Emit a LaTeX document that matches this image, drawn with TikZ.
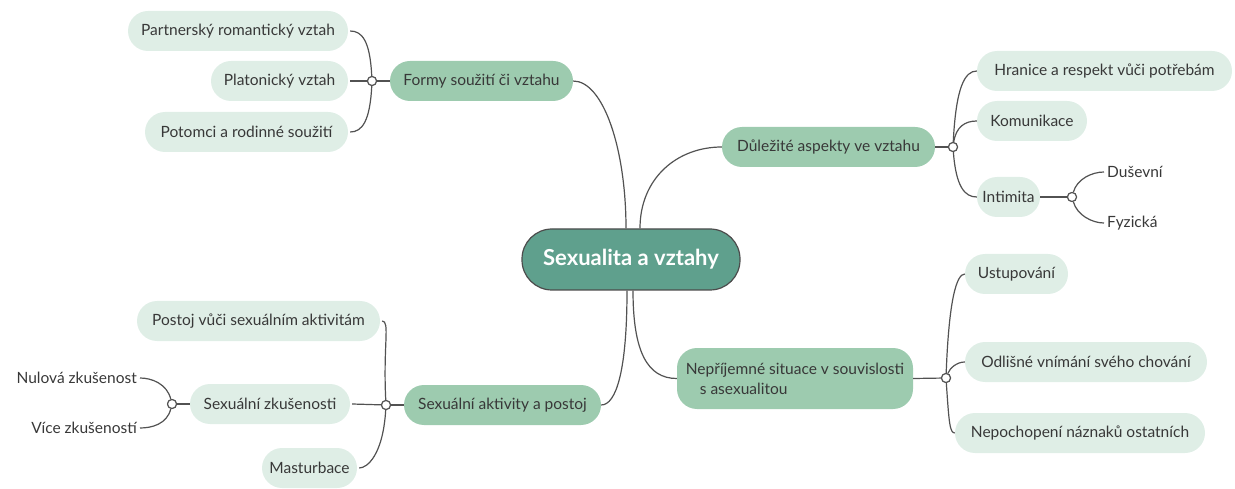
\documentclass[tikz,border=0pt]{standalone}
\usepackage{fontspec}
\setmainfont{Lato}
\begin{document}
\begin{tikzpicture}[x=1pt,y=-1pt,
  every node/.style={font=\fontsize{15.5}{18}\selectfont, text=black!78},
  central/.style={draw=black!70, line width=1.2pt, fill=cmain, rounded corners=30pt, minimum width=218pt, minimum height=61pt, inner sep=0pt, text=white, font=\fontsize{22}{26}\selectfont\bfseries},
  mainbox/.style={fill=cmid, rounded corners=20pt, minimum height=40pt, inner sep=0pt},
  leaf/.style={fill=cleaf, rounded corners=20pt, minimum height=40pt, inner sep=0pt},
  plain/.style={inner sep=0pt},
  conn/.style={draw=black!68, line width=1.2pt},
  junc/.style={circle, draw=black!68, line width=1.1pt, fill=white, minimum size=9pt, inner sep=0pt},
]
\definecolor{cmain}{HTML}{5FA08D}
\definecolor{cmid}{HTML}{9DCBAF}
\definecolor{cleaf}{HTML}{DFEEE6}
\useasboundingbox (0,0) rectangle (1235,489);

% central
\node[central] (c) at (631,259.5) {Sexualita a vztahy};

% main topics
\node[mainbox, minimum width=183pt] (f) at (481.5,81) {Formy soužití či vztahu};
\node[mainbox, minimum width=213pt] (d) at (828.5,147) {Důležité aspekty ve vztahu};
\node[mainbox, minimum width=197pt] (s) at (502.5,405) {Sexuální aktivity a postoj};
\node[mainbox, minimum width=236pt, minimum height=61pt, align=left, font=\fontsize{15.5}{20}\selectfont] (n) at (795,378.5) {Nepříjemné situace v souvislosti\\\hspace*{14pt}s asexualitou};

% leaves of Formy
\node[leaf, minimum width=220pt] (f1) at (238,31) {Partnerský romantický vztah};
\node[leaf, minimum width=137pt] (f2) at (279.5,81) {Platonický vztah};
\node[leaf, minimum width=203pt] (f3) at (246.5,132) {Potomci a rodinné soužití};
\node[junc] (fj) at (372,81) {};

% leaves of Důležité
\node[leaf, minimum width=255pt] (d1) at (1104.5,71) {Hranice a respekt vůči potřebám};
\node[leaf, minimum width=110pt] (d2) at (1032,121) {Komunikace};
\node[leaf, minimum width=63pt] (d3) at (1008.5,197) {Intimita};
\node[junc] (dj) at (953,147) {};
\node[junc] (ij) at (1072,197) {};
\node[plain, anchor=west] (i1) at (1107,172) {Duševní};
\node[plain, anchor=west] (i2) at (1107,223) {Fyzická};

% leaves of Sexuální aktivity
\node[leaf, minimum width=243pt] (s1) at (258.5,321) {Postoj vůči sexuálním aktivitám};
\node[leaf, minimum width=160pt] (s2) at (270,404) {Sexuální zkušenosti};
\node[leaf, minimum width=95pt] (s3) at (309.5,468) {Masturbace};
\node[junc] (sj) at (386,405) {};
\node[junc] (zj) at (172,404) {};
\node[plain, anchor=east] (z1) at (137,378) {Nulová zkušenost};
\node[plain, anchor=east] (z2) at (137,428) {Více zkušeností};

% leaves of Nepříjemné
\node[leaf, minimum width=103pt] (n1) at (1016.5,274) {Ustupování};
\node[leaf, minimum width=242pt] (n2) at (1086,362) {Odlišné vnímání svého chování};
\node[leaf, minimum width=250pt] (n3) at (1080,433) {Nepochopení náznaků ostatních};
\node[junc] (nj) at (946,378) {};

% connectors from central
\draw[conn] (f.east) .. controls ++(30,0) and ++(0,-80) .. ([xshift=-5pt]c.north);
\draw[conn] ([xshift=9pt]c.north) .. controls ++(0,-50) and ++(-45,0) .. (d.west);
\draw[conn] ([xshift=-4pt]c.south) .. controls ++(0,80) and ++(15,0) .. (s.east);
\draw[conn] ([xshift=2pt]c.south) .. controls ++(0,60) and ++(-30,0) .. (n.west);

% Formy branch
\draw[conn] (f.west) -- (fj);
\draw[conn] (fj) .. controls ++(-2,-40) and ++(12,0) .. ([xshift=2pt]f1.east);
\draw[conn] (fj) -- ([xshift=2pt]f2.east);
\draw[conn] (fj) .. controls ++(-2,40) and ++(12,0) .. ([xshift=2pt]f3.east);

% Důležité branch
\draw[conn] (d.east) -- (dj);
\draw[conn] (dj) .. controls ++(3,-60) and ++(-12,0) .. (d1.west);
\draw[conn] (dj) .. controls ++(3,-20) and ++(-12,0) .. (d2.west);
\draw[conn] (dj) .. controls ++(3,40) and ++(-12,0) .. (d3.west);
\draw[conn] (d3.east) -- (ij);
\draw[conn] (ij) .. controls ++(5,-18) and ++(-12,0) .. ([xshift=-3pt]i1.west);
\draw[conn] (ij) .. controls ++(5,18) and ++(-12,0) .. ([xshift=-3pt]i2.west);

% Sexuální aktivity branch
\draw[conn] (s.west) -- (sj);
\draw[conn] (sj) .. controls ++(-3,-60) and ++(8,0) .. ([xshift=2pt]s1.east);
\draw[conn] (sj) -- ([xshift=2pt]s2.east);
\draw[conn] (sj) .. controls ++(-3,50) and ++(8,0) .. ([xshift=2pt]s3.east);
\draw[conn] (s2.west) -- (zj);
\draw[conn] (zj) .. controls ++(-5,-20) and ++(12,0) .. ([xshift=3pt]z1.east);
\draw[conn] (zj) .. controls ++(-5,20) and ++(12,0) .. ([xshift=3pt]z2.east);

% Nepříjemné branch
\draw[conn] (n.east) -- (nj);
\draw[conn] (nj) .. controls ++(3,-80) and ++(-8,0) .. (n1.west);
\draw[conn] (nj) .. controls ++(4,-10) and ++(-8,0) .. (n2.west);
\draw[conn] (nj) .. controls ++(3,45) and ++(-5,0) .. (n3.west);

% redraw junctions on top
\node[junc] at (fj) {};
\node[junc] at (dj) {};
\node[junc] at (ij) {};
\node[junc] at (sj) {};
\node[junc] at (zj) {};
\node[junc] at (nj) {};
\end{tikzpicture}
\end{document}
